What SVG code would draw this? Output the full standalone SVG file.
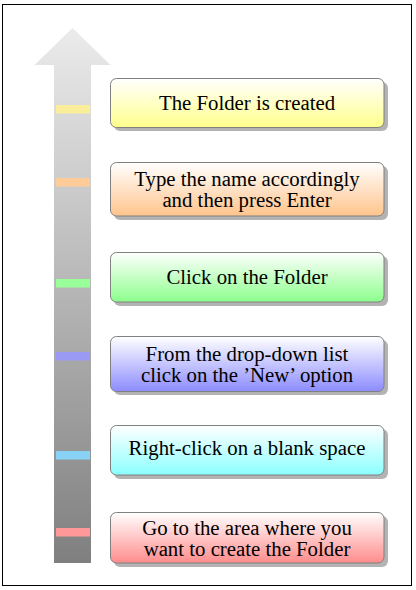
<svg xmlns="http://www.w3.org/2000/svg" width="416" height="590" viewBox="0 0 416 590">
<style>
.frame{fill:#fff;stroke:#000;stroke-width:1}
.box{stroke:#808080;stroke-width:1}
.shadow{fill:#b3b3b3}
.t{font-family:"Liberation Serif","Times New Roman",serif;font-size:20.8px;fill:#000;text-anchor:middle}
</style>
<defs>
<linearGradient id="ga" x1="0" y1="0" x2="0" y2="1">
<stop offset="0" stop-color="#ebebeb"/><stop offset="1" stop-color="#7f7f7f"/>
</linearGradient>
<linearGradient id="gy" x1="0" y1="0" x2="0" y2="1"><stop offset="0" stop-color="#fff"/><stop offset="1" stop-color="#ffff8c"/></linearGradient>
<linearGradient id="go" x1="0" y1="0" x2="0" y2="1"><stop offset="0" stop-color="#fff"/><stop offset="1" stop-color="#ffc48c"/></linearGradient>
<linearGradient id="gg" x1="0" y1="0" x2="0" y2="1"><stop offset="0" stop-color="#fff"/><stop offset="1" stop-color="#8cff8c"/></linearGradient>
<linearGradient id="gb" x1="0" y1="0" x2="0" y2="1"><stop offset="0" stop-color="#fff"/><stop offset="1" stop-color="#8c8cff"/></linearGradient>
<linearGradient id="gc" x1="0" y1="0" x2="0" y2="1"><stop offset="0" stop-color="#fff"/><stop offset="1" stop-color="#8cffff"/></linearGradient>
<linearGradient id="gr" x1="0" y1="0" x2="0" y2="1"><stop offset="0" stop-color="#fff"/><stop offset="1" stop-color="#ff8c8c"/></linearGradient>
</defs>
<rect class="frame" x="2.5" y="4.5" width="409" height="581"/>
<g id="arrow">
<path d="M72.5,28 L110.5,65 L91,65 L91,563 L54,563 L54,65 L34.5,65 Z" fill="url(#ga)"/>
<rect x="56" y="105" width="34" height="8.5" fill="#fbee9b"/>
<rect x="56" y="178" width="34" height="8.5" fill="#ffcc99"/>
<rect x="56" y="279" width="34" height="8.5" fill="#99ff99"/>
<rect x="56" y="352" width="34" height="8.5" fill="#9a9af5"/>
<rect x="56" y="451" width="34" height="8.5" fill="#88d3f5"/>
<rect x="56" y="528" width="34" height="8.5" fill="#ff9999"/>
</g>
<g id="connectors"></g>
<g id="n1">
<rect class="shadow" x="114" y="82" width="274" height="49" rx="6"/>
<rect class="box" x="110.5" y="78.5" width="273.5" height="49" rx="6" fill="url(#gy)"/>
<text class="t" x="247" y="110">The Folder is created</text>
</g>
<g id="n2">
<rect class="shadow" x="114" y="166" width="274" height="54" rx="6"/>
<rect class="box" x="110.5" y="162.5" width="273.5" height="53.5" rx="6" fill="url(#go)"/>
<text class="t" x="247" y="185.5">Type the name accordingly</text>
<text class="t" x="247" y="206.5">and then press Enter</text>
</g>
<g id="n3">
<rect class="shadow" x="114" y="256" width="274" height="50" rx="6"/>
<rect class="box" x="110.5" y="252.5" width="273.5" height="49.5" rx="6" fill="url(#gg)"/>
<text class="t" x="247" y="284">Click on the Folder</text>
</g>
<g id="n4">
<rect class="shadow" x="114" y="340" width="274" height="55" rx="6"/>
<rect class="box" x="110.5" y="336.5" width="273.5" height="55" rx="6" fill="url(#gb)"/>
<text class="t" x="247" y="360.5">From the drop-down list</text>
<text class="t" x="247" y="381.5">click on the ’New’ option</text>
</g>
<g id="n5">
<rect class="shadow" x="114" y="429" width="274" height="50" rx="6"/>
<rect class="box" x="110.5" y="425.5" width="273.5" height="49.5" rx="6" fill="url(#gc)"/>
<text class="t" x="247" y="455">Right-click on a blank space</text>
</g>
<g id="n6">
<rect class="shadow" x="114" y="516" width="274" height="51" rx="6"/>
<rect class="box" x="110.5" y="512.5" width="273.5" height="50.5" rx="6" fill="url(#gr)"/>
<text class="t" x="247" y="534.5">Go to the area where you</text>
<text class="t" x="247" y="555.5">want to create the Folder</text>
</g>
</svg>
